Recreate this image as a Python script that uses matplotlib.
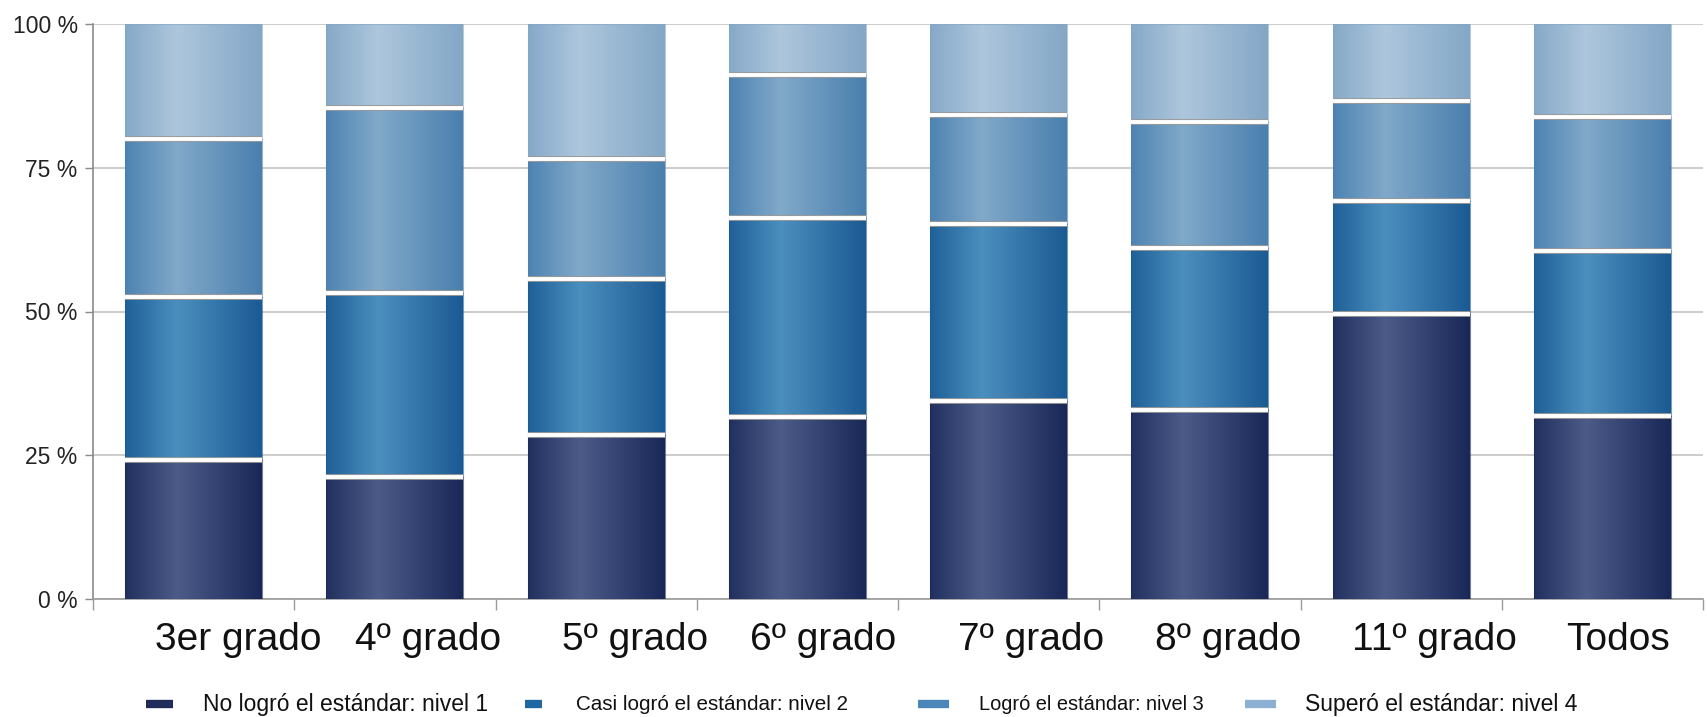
import numpy as np
import matplotlib
matplotlib.use("Agg")
import matplotlib.pyplot as plt
from matplotlib.colors import LinearSegmentedColormap
from matplotlib.lines import Line2D
from matplotlib.transforms import ScaledTranslation

# ---------------- data ----------------
categories = ["3er grado", "4º grado", "5º grado", "6º grado",
              "7º grado", "8º grado", "11º grado", "Todos"]
nivel1 = [24.2, 21.2, 28.5, 31.6, 34.4, 32.9, 49.5, 31.9]
nivel2 = [28.4, 32.1, 27.1, 34.6, 30.8, 28.2, 19.7, 28.6]
nivel3 = [27.4, 32.1, 21.0, 24.9, 18.9, 21.9, 17.4, 23.4]
nivel4 = [20.0, 14.6, 23.4, 8.9, 15.9, 17.0, 13.4, 16.1]
series_labels = ["No logró el estándar: nivel 1",
                 "Casi logró el estándar: nivel 2",
                 "Logró el estándar: nivel 3",
                 "Superó el estándar: nivel 4"]
ytick_vals = [0, 25, 50, 75, 100]
ytick_labels = ["0 %", "25 %", "50 %", "75 %", "100 %"]

# ---------------- style ----------------
sans = ["Liberation Sans", "DejaVu Sans"]
# (edge, light, dark-edge) per level for the horizontal gradient
grad_cols = [
    ("#22305f", "#4d5b89", "#1a2858"),
    ("#1f6098", "#4b8fbe", "#1b5a93"),
    ("#4d83b2", "#81a9c9", "#4a7fae"),
    ("#86a9c8", "#adc6dc", "#84a7c6"),
]
legend_cols = ["#1f2c5b", "#1f67a3", "#4a86b8", "#8cb0d0"]
label_offsets_px = [45, 33, 39, 26, 32, 28, 33, 16]

W, H = 1707, 717
fig = plt.figure(figsize=(W / 100, H / 100), dpi=100)
ax = fig.add_axes([93 / W, 1 - 599 / H, (1703 - 93) / W, (599 - 24) / H])

x = np.arange(len(categories))
width = 0.68
series = [nivel1, nivel2, nivel3, nivel4]
bottom = np.zeros(len(categories))
grad = np.linspace(0, 1, 256)[np.newaxis, :]
for i, vals in enumerate(series):
    vals = np.asarray(vals, dtype=float)
    bars = ax.bar(x, vals, width, bottom=bottom, color=grad_cols[i][0],
                  edgecolor="none", zorder=2, label=series_labels[i])
    cmap = LinearSegmentedColormap.from_list(
        f"g{i}", [(0, grad_cols[i][0]), (0.38, grad_cols[i][1]), (1, grad_cols[i][2])])
    for p in bars.patches:
        x0, y0 = p.get_x(), p.get_y()
        ax.imshow(grad, extent=[x0, x0 + p.get_width(), y0, y0 + p.get_height()],
                  cmap=cmap, aspect="auto", zorder=3, interpolation="bilinear")
        ax.add_patch(plt.Rectangle((x0, y0), p.get_width(), p.get_height(),
                                   fill=False, edgecolor=grad_cols[i][2],
                                   linewidth=0.8, zorder=4, alpha=0.6))
    bottom = bottom + vals
    if i < 3:
        ax.hlines(bottom, x - width / 2, x + width / 2, colors="#9a9a9a",
                  linewidth=4.2, zorder=5)
        ax.hlines(bottom, x - width / 2, x + width / 2, colors="white",
                  linewidth=2.8, zorder=6)

ax.set_xlim(-0.5, len(categories) - 0.5)
ax.set_ylim(0, 100)

# grid and spines
ax.set_yticks(ytick_vals)
ax.set_yticklabels(ytick_labels, family=sans, fontsize=16.5, color="#222222")
ax.yaxis.grid(True, color="#c4c4c4", linewidth=1.2, zorder=0)
ax.set_axisbelow(True)
ax.tick_params(axis="y", length=6, width=1, color="#8a8a8a", pad=5)
for s in ["top", "right"]:
    ax.spines[s].set_visible(False)
ax.spines["left"].set_color("#8a8a8a")
ax.spines["bottom"].set_color("#9a9a9a")
ax.spines["left"].set_linewidth(1.2)
ax.spines["bottom"].set_linewidth(1.2)

ax.set_xticks(x)
ax.set_xticklabels(categories, family=sans, fontsize=28, color="#111111")
ax.set_xticks(np.arange(len(categories) + 1) - 0.5, minor=True)
ax.tick_params(axis="x", which="major", length=0, pad=16.5)
ax.tick_params(axis="x", which="minor", length=8, width=1, color="#9a9a9a")
for lab, off in zip(ax.get_xticklabels(), label_offsets_px):
    lab.set_transform(lab.get_transform() + ScaledTranslation(off / 100, 0, fig.dpi_scale_trans))

# legend (manual placement)
leg_marker_x = [(146, 173), (525, 542), (918, 949), (1245, 1276)]
leg_text_x = [203, 576, 979, 1305]
leg_sizes = [16.5, 14.9, 14.4, 16.5]
ly = 1 - 704 / H
for (mx0, mx1), tx, c, lab, fs in zip(leg_marker_x, leg_text_x, legend_cols,
                                      series_labels, leg_sizes):
    fig.add_artist(Line2D([mx0 / W, mx1 / W], [ly, ly], color=c, linewidth=6,
                          solid_capstyle="butt", transform=fig.transFigure))
    fig.text(tx / W, ly, lab, family=sans, fontsize=fs, color="#111111",
             va="center", ha="left")

fig.savefig("out.png", dpi=100, facecolor="white")
